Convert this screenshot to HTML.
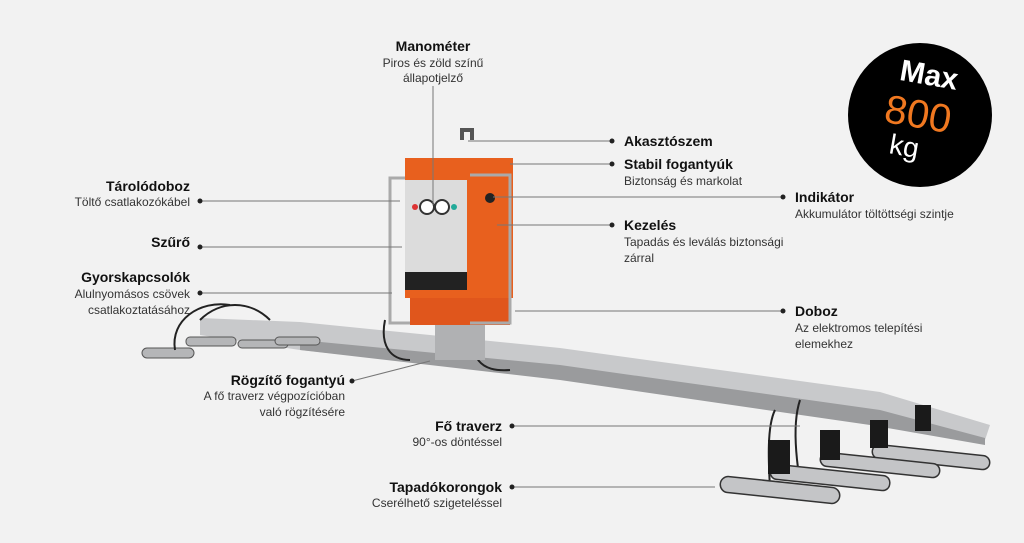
<!DOCTYPE html>
<html><head><meta charset="utf-8"><style>
html,body{margin:0;padding:0;background:#f2f2f2;}
svg{display:block;font-family:"Liberation Sans",sans-serif;}
.b{font-weight:bold;font-size:14px;fill:#111;}
.s{font-size:12px;fill:#333;}
.l{stroke:#777;stroke-width:1;fill:none;}
</style></head><body>
<svg width="1024" height="543" viewBox="0 0 1024 543" xmlns="http://www.w3.org/2000/svg">
<rect width="1024" height="543" fill="#f2f2f2"/>
<!-- beam -->
<polygon points="200,318 300,322 560,348 880,392 990,425 985,440 870,420 560,378 300,350 200,335" fill="#c8c9cb"/>
<polygon points="300,340 560,365 880,410 985,438 985,445 870,425 560,380 300,350" fill="#9a9b9d"/>
<!-- left pads -->
<g fill="#b5b6b8" stroke="#555" stroke-width="1">
<rect x="142" y="348" width="52" height="10" rx="5"/>
<rect x="186" y="337" width="50" height="9" rx="4"/>
<rect x="238" y="340" width="50" height="8" rx="4"/>
<rect x="275" y="337" width="45" height="8" rx="4"/>
</g>
<g stroke="#222" stroke-width="2" fill="none">
<path d="M175,350 C170,320 200,300 230,305"/><path d="M200,320 C220,300 250,300 270,320"/>
<path d="M385,320 C380,345 390,360 410,360"/><path d="M470,320 C470,360 480,372 510,370"/>
<path d="M775,410 C765,430 770,480 770,490"/><path d="M800,400 C790,430 800,480 800,480"/>
</g>
<!-- right pads -->
<g fill="#c4c5c7" stroke="#333" stroke-width="1.5">
<rect x="872" y="450" width="118" height="14" rx="7" transform="rotate(6 930 457)"/>
<rect x="820" y="458" width="120" height="14" rx="7" transform="rotate(6 880 465)"/>
<rect x="770" y="470" width="120" height="15" rx="7" transform="rotate(6 830 478)"/>
<rect x="720" y="482" width="120" height="16" rx="8" transform="rotate(6 780 490)"/>
</g>
<g fill="#1a1a1a"><rect x="768" y="440" width="22" height="34"/><rect x="820" y="430" width="20" height="30"/><rect x="870" y="420" width="18" height="28"/><rect x="915" y="405" width="16" height="26"/></g>
<!-- central unit -->
<rect x="435" y="310" width="50" height="50" fill="#b0b1b3"/>
<rect x="410" y="290" width="100" height="35" fill="#e0561c"/>
<path d="M462,140 l0,-10 h10 v10" stroke="#555" stroke-width="4" fill="none"/>
<rect x="405" y="158" width="108" height="140" fill="#e8601e"/>
<rect x="405" y="180" width="62" height="110" fill="#dcdcdc"/>
<rect x="405" y="272" width="62" height="18" fill="#222"/>
<circle cx="427" cy="207" r="7" fill="#fff" stroke="#333" stroke-width="2"/>
<circle cx="442" cy="207" r="7" fill="#fff" stroke="#333" stroke-width="2"/>
<circle cx="415" cy="207" r="3" fill="#d33"/><circle cx="454" cy="207" r="3" fill="#2a9"/>
<path d="M405,178 h-15 v145 h20 M470,175 h40 v148 h-40" stroke="#aaa" stroke-width="3" fill="none"/>
<circle cx="490" cy="198" r="5" fill="#222"/>
<!-- connectors -->
<g class="l">
<line x1="433" y1="86" x2="433" y2="205"/>
<line x1="468" y1="141" x2="612" y2="141"/>
<line x1="510" y1="164" x2="612" y2="164"/>
<line x1="493" y1="197" x2="783" y2="197"/>
<line x1="497" y1="225" x2="612" y2="225"/>
<line x1="515" y1="311" x2="783" y2="311"/>
<line x1="200" y1="201" x2="400" y2="201"/>
<line x1="200" y1="247" x2="402" y2="247"/>
<line x1="200" y1="293" x2="392" y2="293"/>
<line x1="352" y1="381" x2="430" y2="361"/>
<line x1="512" y1="426" x2="800" y2="426"/>
<line x1="512" y1="487" x2="715" y2="487"/>
</g>
<g fill="#222">
<circle cx="612" cy="141" r="2.5"/><circle cx="612" cy="164" r="2.5"/><circle cx="783" cy="197" r="2.5"/>
<circle cx="612" cy="225" r="2.5"/><circle cx="783" cy="311" r="2.5"/><circle cx="200" cy="201" r="2.5"/>
<circle cx="200" cy="247" r="2.5"/><circle cx="200" cy="293" r="2.5"/><circle cx="352" cy="381" r="2.5"/>
<circle cx="512" cy="426" r="2.5"/><circle cx="512" cy="487" r="2.5"/>
</g>
<!-- labels -->
<g text-anchor="middle"><text x="433" y="51" class="b">Manométer</text><text x="433" y="67" class="s">Piros és zöld színű</text><text x="433" y="82" class="s">állapotjelző</text></g>
<text x="624" y="146" class="b">Akasztószem</text>
<text x="624" y="169" class="b">Stabil fogantyúk</text><text x="624" y="185" class="s">Biztonság és markolat</text>
<text x="795" y="202" class="b">Indikátor</text><text x="795" y="218" class="s">Akkumulátor töltöttségi szintje</text>
<text x="624" y="230" class="b">Kezelés</text><text x="624" y="246" class="s">Tapadás és leválás biztonsági</text><text x="624" y="262" class="s">zárral</text>
<text x="795" y="316" class="b">Doboz</text><text x="795" y="332" class="s">Az elektromos telepítési</text><text x="795" y="348" class="s">elemekhez</text>
<g text-anchor="end">
<text x="190" y="191" class="b">Tárolódoboz</text><text x="190" y="206" class="s">Töltő csatlakozókábel</text>
<text x="190" y="247" class="b">Szűrő</text>
<text x="190" y="282" class="b">Gyorskapcsolók</text><text x="190" y="298" class="s">Alulnyomásos csövek</text><text x="190" y="314" class="s">csatlakoztatásához</text>
<text x="345" y="385" class="b">Rögzítő fogantyú</text><text x="345" y="400" class="s">A fő traverz végpozícióban</text><text x="345" y="416" class="s">való rögzítésére</text>
<text x="502" y="431" class="b">Fő traverz</text><text x="502" y="446" class="s">90°-os döntéssel</text>
<text x="502" y="492" class="b">Tapadókorongok</text><text x="502" y="507" class="s">Cserélhető szigeteléssel</text>
</g>
<!-- badge -->
<circle cx="920" cy="115" r="72" fill="#000"/>
<g transform="rotate(10 920 115)" text-anchor="middle">
<text x="922" y="84" font-size="30" font-weight="bold" fill="#fff">Max</text>
<text x="918" y="128" font-size="40" fill="#f07820">800</text>
<text x="910" y="158" font-size="28" fill="#fff">kg</text>
</g>
</svg>
</body></html>
